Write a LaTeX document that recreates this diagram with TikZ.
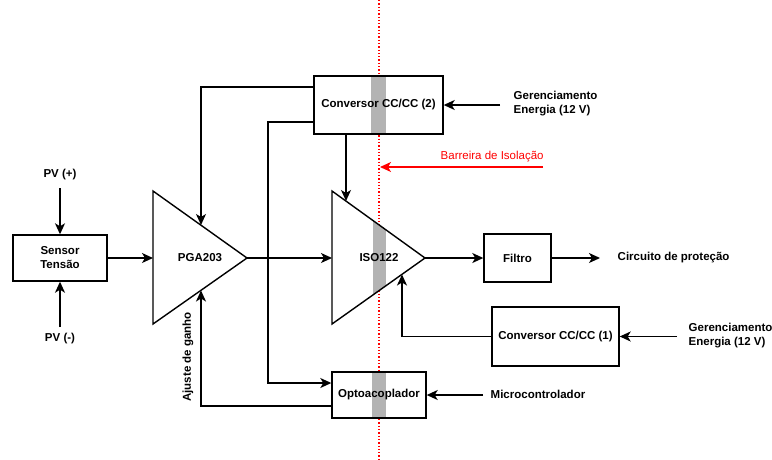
\documentclass[tikz,border=0pt]{standalone}
\usepackage{fontspec}
\setmainfont{Liberation Sans}
\usetikzlibrary{arrows.meta}
\definecolor{barG}{RGB}{179,179,179}
\definecolor{isored}{RGB}{255,0,0}
\begin{document}
\begin{tikzpicture}[x=1pt,y=-1pt,
  font=\fontsize{11.5}{14}\selectfont\bfseries,
  line width=1.4pt,
  >={Stealth[length=11pt,width=10pt,inset=3pt]},
  blk/.style={draw,line width=1.4pt,inner sep=0pt,align=center},
  lbl/.style={inner sep=0pt,align=left},
  conn/.style={->,line width=1.4pt}]
\useasboundingbox (0,0) rectangle (772,459);

% isolation barrier
\coordinate (bt) at (379,0);
\coordinate (bb) at (379,459);
\draw[isored,dotted,line width=1.3pt] (bt) -- (bb);

% triangle vertices
\coordinate (p1) at (153,191); \coordinate (p2) at (153,324); \coordinate (p3) at (247,258);
\coordinate (i1) at (332,191); \coordinate (i2) at (332,324); \coordinate (i3) at (425,258);

% gray bars
\fill[barG] (371,76) rectangle (386,134);
\fill[barG] (372,372) rectangle (386,418);
\begin{scope}
  \clip (i1) -- (i2) -- (i3) -- cycle;
  \fill[barG] (373,180) rectangle (386,330);
\end{scope}

% triangles
\draw[line join=miter] (p1) -- (p2) -- (p3) -- cycle;
\draw[line join=miter] (i1) -- (i2) -- (i3) -- cycle;
\node (pga) at (200,258) {PGA203};
\node (iso) at (379,258) {ISO122};

% boxes
\node[blk,minimum width=129pt,minimum height=58pt] (cc2) at (378.5,105) {Conversor CC/CC (2)};
\node[blk,minimum width=94pt,minimum height=46pt] (sens) at (60,258) {Sensor\\Tensão};
\node[blk,minimum width=67pt,minimum height=48pt] (filt) at (517.5,258) {Filtro};
\node[blk,minimum width=127pt,minimum height=59pt] (cc1) at (555.5,336.5) {Conversor CC/CC (1)};
\node[blk,minimum width=94pt,minimum height=46pt] (opto) at (379,395) {Optoacoplador};

% labels
\node (pvp) at (60,175) {PV (+)};
\node (pvm) at (60,339) {PV (-)};
\node[lbl,anchor=west] (ger2) at (513,104) {Gerenciamento\\Energia (12 V)};
\node[lbl,anchor=west] (ger1) at (688,336) {Gerenciamento\\Energia (12 V)};
\node[lbl,anchor=west] (circ) at (617,258) {Circuito de proteção};
\node[lbl,anchor=west] (micro) at (490,394) {Microcontrolador};
\node[lbl,anchor=west,text=isored,font=\fontsize{11.5}{14}\selectfont] (barr) at (440,157) {Barreira de Isolação};
\node[rotate=90] (ajus) at (188,357) {Ajuste de ganho};

% connector end points
\coordinate (pvpS) at (60,188);
\coordinate (pvmN) at (60,327);
\coordinate (pgaIn) at (153,258);
\coordinate (isoIn) at (332,258);
\coordinate (pgaTop) at (201,225);
\coordinate (pgaBot) at (201,290.5);
\coordinate (isoTop) at (346,201);
\coordinate (isoBot) at (402,274.5);
\coordinate (ger2S) at (500,105);
\coordinate (ger1S) at (677,336.5);
\coordinate (microS) at (483,395);
\coordinate (circE) at (600,258);
\coordinate (barrS) at (543,167);
\coordinate (barrE) at (380,167);

% connectors
\draw[conn] (pvpS) -- (sens.north);
\draw[conn] (pvmN) -- (sens.south);
\draw[conn] (sens.east) -- (pgaIn);
\draw[conn] (p3) -- (isoIn);
\draw[conn] (i3) -- (filt.west);
\draw[conn] (filt.east) -- (circE);
\draw[conn] (cc2.west |- 0,87) -| (pgaTop);
\draw[conn] (cc2.west |- 0,122) -- (268,122) |- (opto.west |- 0,383);
\draw[conn] (cc2.south -| isoTop) -- (isoTop);
\draw[conn] (ger2S) -- (cc2.east);
\draw[conn] (ger1S) -- (cc1.east);
\draw[conn] (cc1.west) -| (isoBot);
\draw[conn] (microS) -- (opto.east);
\draw[conn] (opto.west |- 0,406) -| (pgaBot);
\draw[conn,isored] (barrS) -- (barrE);
\end{tikzpicture}
\end{document}
